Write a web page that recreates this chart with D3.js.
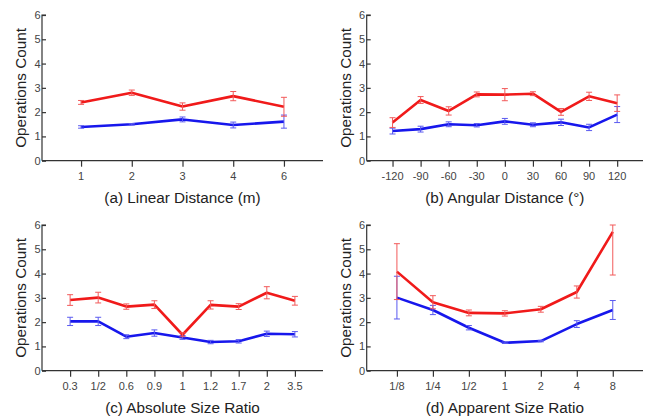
<!DOCTYPE html>
<html>
<head>
<meta charset="utf-8">
<script src="https://cdn.jsdelivr.net/npm/d3@7"></script>
<style>
  html, body { margin: 0; padding: 0; background: #fff; }
  svg { display: block; font-family: "Liberation Sans", Arial, sans-serif; }
</style>
</head>
<body>
<svg id="chart" width="649" height="418"></svg>
<script>
// ---- data ----
const linearCats = ["1", "2", "3", "4", "6"];
const linearRed = [2.40, 2.80, 2.23, 2.66, 2.22];
const linearRedErr = [0.08, 0.11, 0.15, 0.19, 0.39];
const linearBlue = [1.39, 1.50, 1.70, 1.47, 1.61];
const linearBlueErr = [0.05, 0.03, 0.10, 0.12, 0.27];

const angularCats = ["-120", "-90", "-60", "-30", "0", "30", "60", "90", "120"];
const angularRed = [1.57, 2.50, 2.05, 2.73, 2.72, 2.76, 2.01, 2.65, 2.37];
const angularRedErr = [0.20, 0.14, 0.17, 0.10, 0.25, 0.08, 0.14, 0.17, 0.34];
const angularBlue = [1.22, 1.30, 1.50, 1.46, 1.62, 1.48, 1.58, 1.37, 1.90];
const angularBlueErr = [0.12, 0.12, 0.10, 0.07, 0.12, 0.08, 0.13, 0.13, 0.33];

const absCats = ["0.3", "1/2", "0.6", "0.9", "1", "1.2", "1.7", "2", "3.5"];
const absRed = [2.91, 3.01, 2.64, 2.72, 1.48, 2.71, 2.64, 3.21, 2.88];
const absRedErr = [0.22, 0.22, 0.11, 0.16, 0.08, 0.17, 0.12, 0.25, 0.18];
const absBlue = [2.03, 2.03, 1.40, 1.55, 1.37, 1.18, 1.21, 1.52, 1.50];
const absBlueErr = [0.17, 0.17, 0.08, 0.13, 0.08, 0.07, 0.07, 0.11, 0.11];

const appCats = ["1/8", "1/4", "1/2", "1", "2", "4", "8"];
const appRed = [4.08, 2.82, 2.38, 2.36, 2.53, 3.24, 5.72];
const appRedErr = [1.15, 0.27, 0.12, 0.11, 0.12, 0.25, 1.78];
const appBlue = [3.01, 2.50, 1.77, 1.15, 1.22, 1.92, 2.50];
const appBlueErr = [0.88, 0.19, 0.09, 0.03, 0.03, 0.14, 0.39];

const yTicks = [0, 1, 2, 3, 4, 5, 6];
const yTitle = "Operations Count";
const yMax = 6;

// ---- panel layout ----
const panels = [
  { cats: linearCats, red: linearRed, redErr: linearRedErr, blue: linearBlue, blueErr: linearBlueErr,
    caption: "(a) Linear Distance (m)", x0: 42, x1: 323, yTop: 15, yBot: 160.7, pad: 0.77, titleX: 20 },
  { cats: angularCats, red: angularRed, redErr: angularRedErr, blue: angularBlue, blueErr: angularBlueErr,
    caption: "(b) Angular Distance (°)", x0: 366.7, x1: 643, yTop: 15, yBot: 160.7, pad: 0.92, titleX: 345 },
  { cats: absCats, red: absRed, redErr: absRedErr, blue: absBlue, blueErr: absBlueErr,
    caption: "(c) Absolute Size Ratio", x0: 42, x1: 323, yTop: 225, yBot: 370.7, pad: 1.0, titleX: 20 },
  { cats: appCats, red: appRed, redErr: appRedErr, blue: appBlue, blueErr: appBlueErr,
    caption: "(d) Apparent Size Ratio", x0: 366.7, x1: 643, yTop: 225, yBot: 370.7, pad: 0.84, titleX: 345 }
];

const RED = "#f01a1a", RED_ERR = "#f25a5a";
const BLUE = "#1717ec", BLUE_ERR = "#5a5af0";
const AXIS = "#333", TICK_TXT = "#444", TXT = "#222";

const svg = d3.select("#chart");

panels.forEach(p => {
  const g = svg.append("g");
  const x = d3.scalePoint().domain(p.cats).range([p.x0, p.x1]).padding(p.pad);
  const y = d3.scaleLinear().domain([0, yMax]).range([p.yBot, p.yTop]);

  // y axis: ticks point inward
  const yAxis = d3.axisRight(y).tickValues(yTicks).tickSize(4).tickFormat("");
  const ya = g.append("g").attr("transform", `translate(${p.x0},0)`).call(yAxis);
  ya.select(".domain").attr("d", `M4,${p.yTop}H0V${p.yBot}`);
  ya.selectAll("line, path").attr("stroke", AXIS).attr("stroke-width", 1.2);
  g.selectAll(".ylab").data(yTicks).enter().append("text")
    .attr("x", p.x0 - 1.5).attr("y", d => y(d))
    .attr("text-anchor", "end").attr("dominant-baseline", "central")
    .attr("font-size", 11).attr("fill", TICK_TXT).text(d => d);

  // x axis: ticks point outward
  const xAxis = d3.axisBottom(x).tickSize(6).tickSizeOuter(0).tickFormat("");
  const xa = g.append("g").attr("transform", `translate(0,${p.yBot})`).call(xAxis);
  xa.select(".domain").attr("d", `M${p.x0},0H${p.x1}`);
  xa.selectAll("line, path").attr("stroke", AXIS).attr("stroke-width", 1.2);
  g.selectAll(".xlab").data(p.cats).enter().append("text")
    .attr("x", d => x(d)).attr("y", p.yBot + 15.5)
    .attr("text-anchor", "middle").attr("dominant-baseline", "central")
    .attr("font-size", 11).attr("fill", TICK_TXT).text(d => d);

  // axis title and caption
  const cy = (p.yTop + p.yBot) / 2;
  g.append("text")
    .attr("transform", `translate(${p.titleX},${cy}) rotate(-90)`)
    .attr("text-anchor", "middle").attr("dominant-baseline", "central")
    .attr("font-size", 15.3).attr("fill", TXT).text(yTitle);
  g.append("text")
    .attr("x", (p.x0 + p.x1) / 2).attr("y", p.yBot + 36.5)
    .attr("text-anchor", "middle").attr("dominant-baseline", "central")
    .attr("font-size", 15.3).attr("fill", TXT).text(p.caption);

  // series lines with error bars (bars are clipped at the top of the axis)
  const series = [
    { vals: p.blue, errs: p.blueErr, color: BLUE, errColor: BLUE_ERR },
    { vals: p.red, errs: p.redErr, color: RED, errColor: RED_ERR }
  ];
  const line = d3.line().x((d, i) => x(p.cats[i])).y(d => y(d));
  series.forEach(s => {
    g.append("path").datum(s.vals)
      .attr("d", line).attr("fill", "none")
      .attr("stroke", s.color).attr("stroke-width", 2.6)
      .attr("stroke-linejoin", "round");
    const eb = g.append("g").attr("stroke", s.errColor).attr("stroke-width", 1);
    s.vals.forEach((v, i) => {
      const cx = x(p.cats[i]);
      const top = y(Math.min(yMax, v + s.errs[i])), bot = y(v - s.errs[i]);
      eb.append("line").attr("x1", cx).attr("x2", cx).attr("y1", top).attr("y2", bot);
      eb.append("line").attr("x1", cx - 3).attr("x2", cx + 3).attr("y1", top).attr("y2", top);
      eb.append("line").attr("x1", cx - 3).attr("x2", cx + 3).attr("y1", bot).attr("y2", bot);
    });
  });
});
</script>
</body>
</html>
